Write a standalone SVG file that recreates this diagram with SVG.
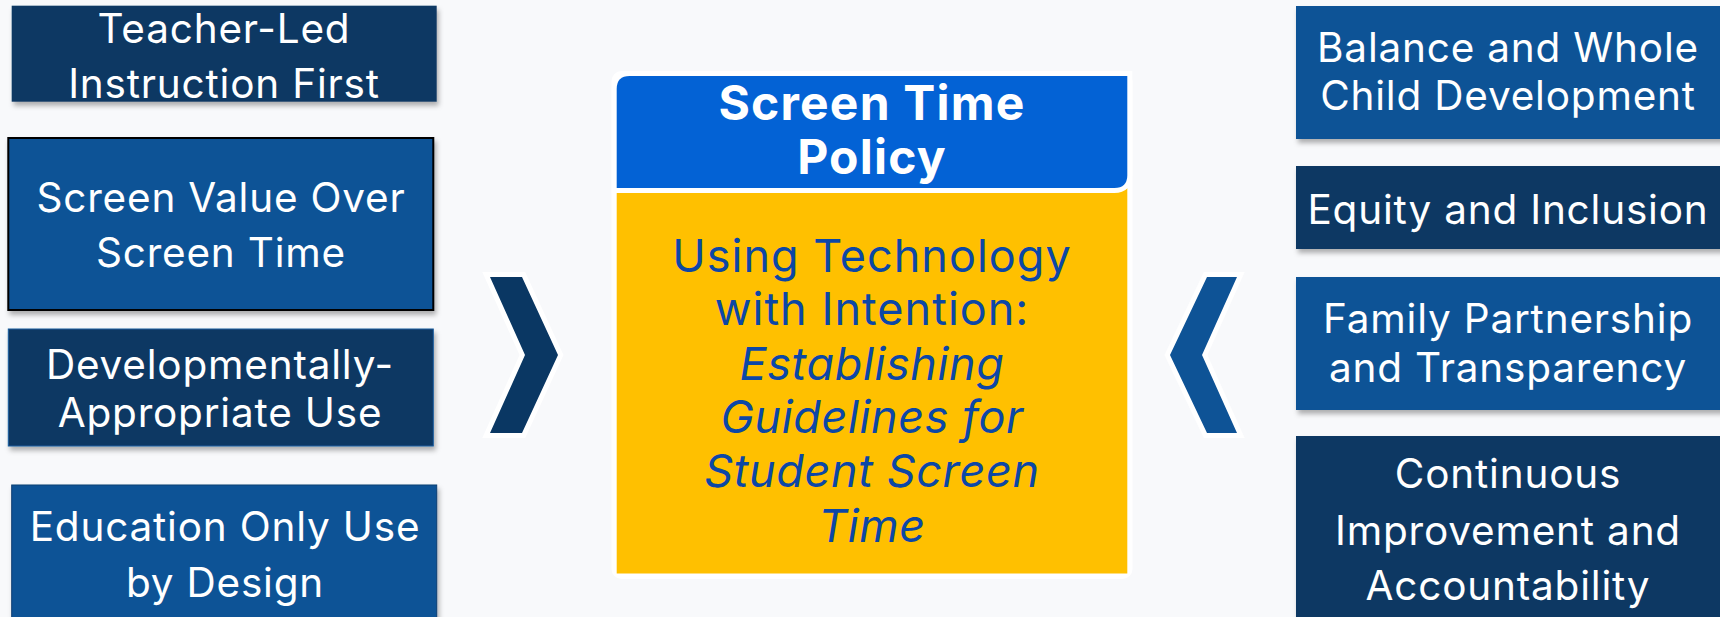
<svg xmlns="http://www.w3.org/2000/svg" width="1720" height="617" viewBox="0 0 1720 617">
<defs>
<filter id="sh" x="-5%" y="-10%" width="115%" height="130%">
<feDropShadow dx="2" dy="4" stdDeviation="2.5" flood-color="#000" flood-opacity="0.3"/>
</filter>
<style>
.navy{fill:#0a3763}
.blue{fill:#0e5396}
.bt{font-family:Inter,"Open Sans","Liberation Sans",sans-serif;font-size:40.5px;letter-spacing:0.8px;fill:#ffffff;text-anchor:middle}
.hd{font-family:Inter,"Open Sans","Liberation Sans",sans-serif;font-size:48px;letter-spacing:1.2px;font-weight:700;fill:#ffffff;text-anchor:middle}
.sub{font-family:Inter,"Open Sans","Liberation Sans",sans-serif;font-size:45px;letter-spacing:1px;fill:#0c47a6;text-anchor:middle}
.it{font-style:italic;letter-spacing:0.6px}
.chev{stroke:#ffffff;stroke-width:10;stroke-linejoin:miter;paint-order:stroke}
</style>
</defs>
<rect x="0" y="0" width="1720" height="617" fill="#f8f9fb"/>

<g id="left-1">
<rect class="navy" x="11.7" y="5.7" width="425" height="96" filter="url(#sh)"/>
<text class="bt" x="224" y="43">Teacher-Led</text>
<text class="bt" x="224" y="98">Instruction First</text>
</g>
<g id="left-2">
<rect class="blue" x="8.3" y="138" width="425" height="172" stroke="#000" stroke-width="2" filter="url(#sh)"/>
<text class="bt" x="221" y="212">Screen Value Over</text>
<text class="bt" x="221" y="267">Screen Time</text>
</g>
<g id="left-3">
<rect class="navy" x="8.3" y="329" width="425" height="117" stroke="#1a5c9e" stroke-width="1" filter="url(#sh)"/>
<text class="bt" x="220" y="379">Developmentally-</text>
<text class="bt" x="220" y="427">Appropriate Use</text>
</g>
<g id="left-4">
<rect class="blue" x="11.7" y="485" width="425" height="150" stroke="#0b3f72" stroke-width="1" filter="url(#sh)"/>
<text class="bt" x="225" y="541">Education Only Use</text>
<text class="bt" x="225" y="597">by Design</text>
</g>

<g id="center">
<rect x="611.5" y="71" width="521" height="508" rx="10" fill="#ffffff"/>
<rect x="616.7" y="188" width="510.6" height="385.5" fill="#ffc000"/>
<path d="M616.7,188 L616.7,89 Q616.7,76 629.7,76 L1127.3,76 L1127.3,175 Q1127.3,188 1114.3,188 Z" fill="#0362d5" stroke="#ffffff" stroke-width="10" paint-order="stroke"/>
<text class="hd" x="872" y="120">Screen Time</text>
<text class="hd" x="872" y="174">Policy</text>
<text class="sub" x="872" y="272">Using Technology</text>
<text class="sub" x="872" y="325">with Intention:</text>
<text class="sub it" x="872" y="380">Establishing</text>
<text class="sub it" x="872" y="433">Guidelines for</text>
<text class="sub it" x="872" y="487">Student Screen</text>
<text class="sub it" x="872" y="542">Time</text>
</g>

<g id="right-1">
<rect class="blue" x="1296" y="6" width="440" height="133" filter="url(#sh)"/>
<text class="bt" x="1508" y="62">Balance and Whole</text>
<text class="bt" x="1508" y="110">Child Development</text>
</g>
<g id="right-2">
<rect class="navy" x="1296" y="166" width="440" height="83" filter="url(#sh)"/>
<text class="bt" x="1508" y="224">Equity and Inclusion</text>
</g>
<g id="right-3">
<rect class="blue" x="1296" y="277" width="440" height="133" filter="url(#sh)"/>
<text class="bt" x="1508" y="333">Family Partnership</text>
<text class="bt" x="1508" y="382">and Transparency</text>
</g>
<g id="right-4">
<rect class="navy" x="1296" y="436" width="440" height="200" filter="url(#sh)"/>
<text class="bt" x="1508" y="488">Continuous</text>
<text class="bt" x="1508" y="545">Improvement and</text>
<text class="bt" x="1508" y="600">Accountability</text>
</g>

<g id="connectors">
<polygon class="chev" points="490,277 522,277 558,355 522,433 490,433 525,355" fill="#0a3763"/>
<polygon class="chev" points="1207,277 1237,277 1202,355 1237,433 1207,433 1170,355" fill="#0e5396"/>
</g>
</svg>
